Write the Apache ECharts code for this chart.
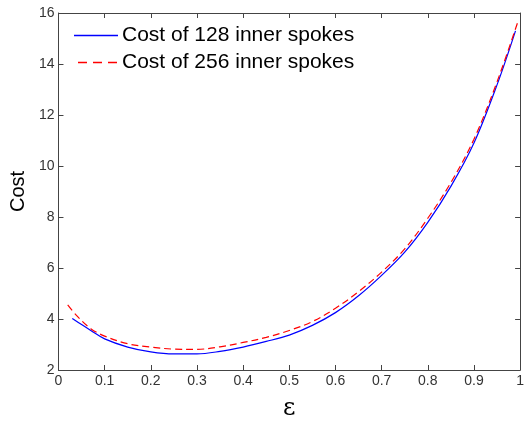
<!DOCTYPE html>
<html>
<head>
<meta charset="utf-8">
<script src="https://cdn.jsdelivr.net/npm/echarts@6/dist/echarts.min.js"></script>
<style>
  html, body { margin: 0; padding: 0; background: #fff; }
  #chart { width: 527px; height: 426px; }
</style>
</head>
<body>
<div id="chart"></div>
<script>
// Cost versus epsilon for two inner-spoke counts
const eps128 = [0.03, 0.05, 0.07, 0.10, 0.15, 0.20, 0.25, 0.30, 0.35, 0.40, 0.45, 0.50, 0.55, 0.60, 0.65, 0.70, 0.75, 0.80, 0.85, 0.90, 0.95, 0.99];
const cost128 = [4.02, 3.78, 3.55, 3.22, 2.90, 2.71, 2.63, 2.63, 2.73, 2.90, 3.12, 3.37, 3.75, 4.25, 4.91, 5.71, 6.62, 7.79, 9.20, 10.90, 13.18, 15.30];

const eps256 = [0.02, 0.04, 0.07, 0.10, 0.15, 0.20, 0.25, 0.30, 0.35, 0.40, 0.45, 0.50, 0.55, 0.60, 0.65, 0.70, 0.75, 0.80, 0.85, 0.90, 0.95, 0.995];
const cost256 = [4.55, 4.12, 3.62, 3.33, 3.03, 2.90, 2.82, 2.81, 2.91, 3.08, 3.28, 3.55, 3.90, 4.42, 5.07, 5.84, 6.75, 7.95, 9.35, 11.05, 13.30, 15.65];

const seriesNames = ['Cost of 128 inner spokes', 'Cost of 256 inner spokes'];
const xTicks = { min: 0, max: 1, interval: 0.1 };
const yTicks = { min: 2, max: 16, interval: 2 };

const FONT = '"Liberation Sans", Arial, sans-serif';
const AXIS_COLOR = '#444';
const BLUE = '#0000ff';
const RED = '#ff0000';

const pairs = (xs, ys) => xs.map((x, i) => [x, ys[i]]);

function boxAxis(base, position, showLabels) {
  return Object.assign({}, base, {
    position: position,
    axisLine: { show: true, onZero: false, lineStyle: { color: AXIS_COLOR, width: 1 } },
    axisTick: { show: true, inside: true, length: 5, lineStyle: { color: AXIS_COLOR } },
    axisLabel: {
      show: showLabels,
      color: '#333',
      fontFamily: FONT,
      fontSize: 14,
      margin: 4,
      formatter: v => String(+v.toFixed(1))
    },
    splitLine: { show: false }
  });
}

// Legend key in the upper-left of the plot: a line sample followed by its label
function legendRow(name, y, color, dash) {
  return {
    type: 'group',
    x: 74,
    y: y,
    children: [
      {
        type: 'line',
        shape: { x1: dash ? 4 : 0, y1: 0, x2: 44, y2: 0 },
        style: { stroke: color, lineWidth: 1.3, lineDash: dash || null }
      },
      {
        type: 'text',
        x: 48,
        y: 0,
        style: { text: name, fontFamily: FONT, fontSize: 21, fill: '#000', verticalAlign: 'middle', align: 'left' }
      }
    ]
  };
}

const chart = echarts.init(document.getElementById('chart'), null, { renderer: 'canvas' });

chart.setOption({
  animation: false,
  backgroundColor: '#fff',
  grid: { left: 57, right: 2, top: 13, bottom: 52, containLabel: false },
  graphic: [
    legendRow(seriesNames[0], 35.5, BLUE, null),
    legendRow(seriesNames[1], 62.5, RED, [9, 6])
  ],
  xAxis: [
    Object.assign(boxAxis({ type: 'value', min: xTicks.min, max: xTicks.max, interval: xTicks.interval }, 'bottom', true), {
      name: 'ε',
      nameLocation: 'middle',
      nameGap: 27,
      nameTextStyle: { fontFamily: '"DejaVu Serif", serif', fontSize: 24, color: '#000' }
    }),
    boxAxis({ type: 'value', min: xTicks.min, max: xTicks.max, interval: xTicks.interval }, 'top', false)
  ],
  yAxis: [
    Object.assign(boxAxis({ type: 'value', min: yTicks.min, max: yTicks.max, interval: yTicks.interval }, 'left', true), {
      name: 'Cost',
      nameLocation: 'middle',
      nameGap: 30,
      nameTextStyle: { fontFamily: FONT, fontSize: 20, color: '#000' }
    }),
    boxAxis({ type: 'value', min: yTicks.min, max: yTicks.max, interval: yTicks.interval }, 'right', false)
  ],
  series: [
    {
      name: seriesNames[0],
      type: 'line',
      data: pairs(eps128, cost128),
      smooth: 0.35,
      symbol: 'none',
      lineStyle: { color: BLUE, width: 1.2, type: 'solid' },
      itemStyle: { color: BLUE }
    },
    {
      name: seriesNames[1],
      type: 'line',
      data: pairs(eps256, cost256),
      smooth: 0.35,
      symbol: 'none',
      lineStyle: { color: RED, width: 1.2, type: [7, 4] },
      itemStyle: { color: RED }
    }
  ]
});
</script>
</body>
</html>
